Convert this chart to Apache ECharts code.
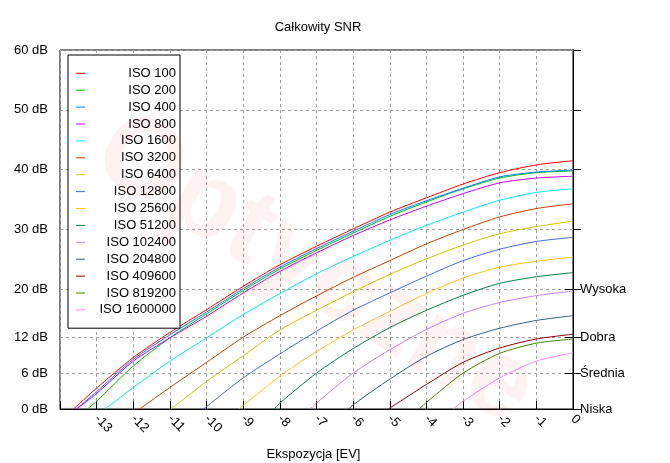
<!DOCTYPE html>
<html><head><meta charset="utf-8">
<script src="https://cdn.jsdelivr.net/npm/echarts@6/dist/echarts.min.js"></script>
<style>html,body{margin:0;padding:0;background:#fff}#c{width:670px;height:463px}</style>
</head><body><div id="c"></div>
<script>
const isoNames = ['ISO 100','ISO 200','ISO 400','ISO 800','ISO 1600','ISO 3200','ISO 6400','ISO 12800','ISO 25600','ISO 51200','ISO 102400','ISO 204800','ISO 409600','ISO 819200','ISO 1600000'];
const isoColors = ['#ff0000','#00c000','#0080ff','#c000ff','#00eeee','#c04000','#c8c800','#4169e1','#ffc020','#008040','#c080ff','#306080','#8b0000','#408000','#ff80ff'];

// [EV, SNR dB]
const iso100 = [[-13.63,0],[-13,3.5],[-12,8.6],[-11,12.8],[-10,16.6],[-9,20.5],[-8,24.1],[-7,27.2],[-6,30.1],[-5,32.9],[-4,35.3],[-3,37.6],[-2,39.5],[-1,40.8],[0,41.5]];
const iso200 = [[-13.25,0],[-13,1.3],[-12,7.2],[-11,11.9],[-10,15.9],[-9,19.8],[-8,23.4],[-7,26.5],[-6,29.4],[-5,32.2],[-4,34.6],[-3,36.8],[-2,38.6],[-1,39.5],[0,39.8]];
const iso400 = [[-13.55,0],[-13,2.9],[-12,8.3],[-11,12.4],[-10,16.2],[-9,20.1],[-8,23.7],[-7,26.8],[-6,29.7],[-5,32.5],[-4,34.8],[-3,36.9],[-2,38.8],[-1,39.6],[0,39.9]];
const iso800 = [[-13.55,0],[-13,2.6],[-12,8.0],[-11,11.9],[-10,15.5],[-9,19.4],[-8,23.0],[-7,26.1],[-6,29.0],[-5,31.6],[-4,33.9],[-3,36.0],[-2,37.8],[-1,38.6],[0,38.9]];
const iso1600 = [[-12.77,0],[-12,3.6],[-11,8.0],[-10,11.9],[-9,15.8],[-8,19.3],[-7,22.6],[-6,25.5],[-5,28.2],[-4,30.7],[-3,32.9],[-2,34.9],[-1,36.2],[0,36.8]];
const iso3200 = [[-11.83,0],[-11,3.6],[-10,7.8],[-9,12.0],[-8,15.6],[-7,18.9],[-6,22.0],[-5,24.8],[-4,27.6],[-3,30.0],[-2,32.1],[-1,33.5],[0,34.3]];
const iso6400 = [[-10.97,0],[-10,4.6],[-9,8.9],[-8,13.2],[-7,16.5],[-6,19.6],[-5,22.5],[-4,25.1],[-3,27.4],[-2,29.3],[-1,30.5],[0,31.4]];
const iso12800 = [[-10.08,0],[-10,0.4],[-9,5.2],[-8,9.2],[-7,13.0],[-6,16.5],[-5,19.4],[-4,22.2],[-3,24.8],[-2,26.7],[-1,28.0],[0,28.7]];
const iso25600 = [[-9.12,0],[-9,0.6],[-8,5.5],[-7,9.6],[-6,13.2],[-5,16.3],[-4,19.3],[-3,21.9],[-2,23.7],[-1,24.7],[0,25.4]];
const iso51200 = [[-8.16,0],[-8,1.0],[-7,6.0],[-6,10.1],[-5,13.6],[-4,16.5],[-3,19.0],[-2,21.0],[-1,22.1],[0,22.8]];
const iso102400 = [[-7.17,0],[-7,1.0],[-6,6.0],[-5,9.9],[-4,13.3],[-3,16.0],[-2,17.8],[-1,18.95],[0,19.7]];
const iso204800 = [[-6.12,0],[-6,0.7],[-5,5.0],[-4,8.8],[-3,11.6],[-2,13.5],[-1,14.8],[0,15.6]];
const iso409600 = [[-5.04,0],[-4,4.1],[-3,7.8],[-2,10.2],[-1,11.7],[0,12.5]];
const iso819200 = [[-4.2,0],[-4,1.1],[-3,6.0],[-2,9.3],[-1,11.0],[0,11.7]];
const iso1600000 = [[-3.27,0],[-3,1.3],[-2,5.2],[-1,8.0],[0,9.4]];

const seriesData = [iso100,iso200,iso400,iso800,iso1600,iso3200,iso6400,iso12800,iso25600,iso51200,iso102400,iso204800,iso409600,iso819200,iso1600000];

const yTicks = [0,6,12,20,30,40,50,60];
const qualityTicks = [0,6,12,20];
const qualityNames = ['Niska','Średnia','Dobra','Wysoka'];
const xMin = -14, xMax = 0;
const titleText = 'Całkowity SNR';
const xName = 'Ekspozycja [EV]';

const FONT = 'Liberation Sans, Arial, sans-serif';
const chart = echarts.init(document.getElementById('c'), null, {renderer:'canvas'});

const gridDash = {color:'#a0a0a0', width:1, type:[3,3]};

chart.setOption({
  animation:false,
  backgroundColor:'#fff',
  textStyle:{fontFamily:FONT},
  title:{text:titleText, left:313, top:16, textAlign:'center',
    textStyle:{fontFamily:FONT, fontSize:13, fontWeight:'normal', color:'#000'}},
  grid:{left:60, right:97, top:50, bottom:54, containLabel:false, outerBoundsMode:'none',
    show:true, borderColor:'#000', borderWidth:1, backgroundColor:'transparent'},
  legend:{
    orient:'vertical', left:68, top:55,
    padding:[11.3,4,11.3,8],
    itemGap:2.9, itemWidth:9, itemHeight:1, icon:'rect',
    itemTextGap:5,
    borderColor:'#000', borderWidth:1, backgroundColor:'#fff',
    data:isoNames,
    formatter: n => '{a|' + n + '}',
    textStyle:{fontFamily:FONT, fontSize:13, color:'#000', lineHeight:14,
      rich:{a:{width:86, align:'right', fontFamily:FONT, fontSize:13, lineHeight:14, color:'#000'}}}
  },
  xAxis:{
    type:'value', min:xMin, max:xMax, interval:1,
    name:xName, nameLocation:'middle', nameGap:39,
    nameTextStyle:{fontFamily:FONT, fontSize:13, color:'#000', padding:[0,6,0,0]},
    axisLine:{show:true, onZero:false, lineStyle:{color:'#000', width:1}},
    axisTick:{show:true, inside:true, length:8, lineStyle:{color:'#000'}},
    axisLabel:{show:true, rotate:-45, margin:8, fontFamily:FONT, fontSize:13, color:'#000',
      formatter: v => (v === xMin ? '' : String(v))},
    splitLine:{show:true, lineStyle:gridDash}
  },
  yAxis:[{
    type:'value', min:0, max:60, position:'left',
    axisLine:{show:true, lineStyle:{color:'#000', width:1}},
    axisTick:{show:true, inside:true, length:8, customValues:yTicks, lineStyle:{color:'#000'}},
    axisLabel:{show:true, margin:12, customValues:yTicks, fontFamily:FONT, fontSize:13, color:'#000',
      formatter: v => v + ' dB'},
    splitLine:{show:true, lineStyle:gridDash}
  },{
    type:'value', min:0, max:60, position:'right',
    axisLine:{show:true, lineStyle:{color:'#000', width:1}},
    axisTick:{show:true, inside:true, length:8, customValues:qualityTicks, lineStyle:{color:'#000'}},
    axisLabel:{show:true, margin:7, customValues:qualityTicks, fontFamily:FONT, fontSize:13, color:'#000',
      formatter: v => { const i = qualityTicks.indexOf(v); return i >= 0 ? qualityNames[i] : ''; }},
    splitLine:{show:false}
  }],
  graphic:[{
    type:'text', left:75, top:95, rotation:-0.55, z:100, silent:true,
    style:{text:'Optyczne', font:'bold 110px ' + FONT, fill:'rgba(255,0,0,0.05)'}
  }],
  series: seriesData.map((d,i)=>({
    name:isoNames[i], type:'line', data:d, showSymbol:false, symbol:'none',
    smooth:0.25,
    color:isoColors[i],
    lineStyle:{color:isoColors[i], width:1},
    z:3
  }))
});
</script></body></html>
